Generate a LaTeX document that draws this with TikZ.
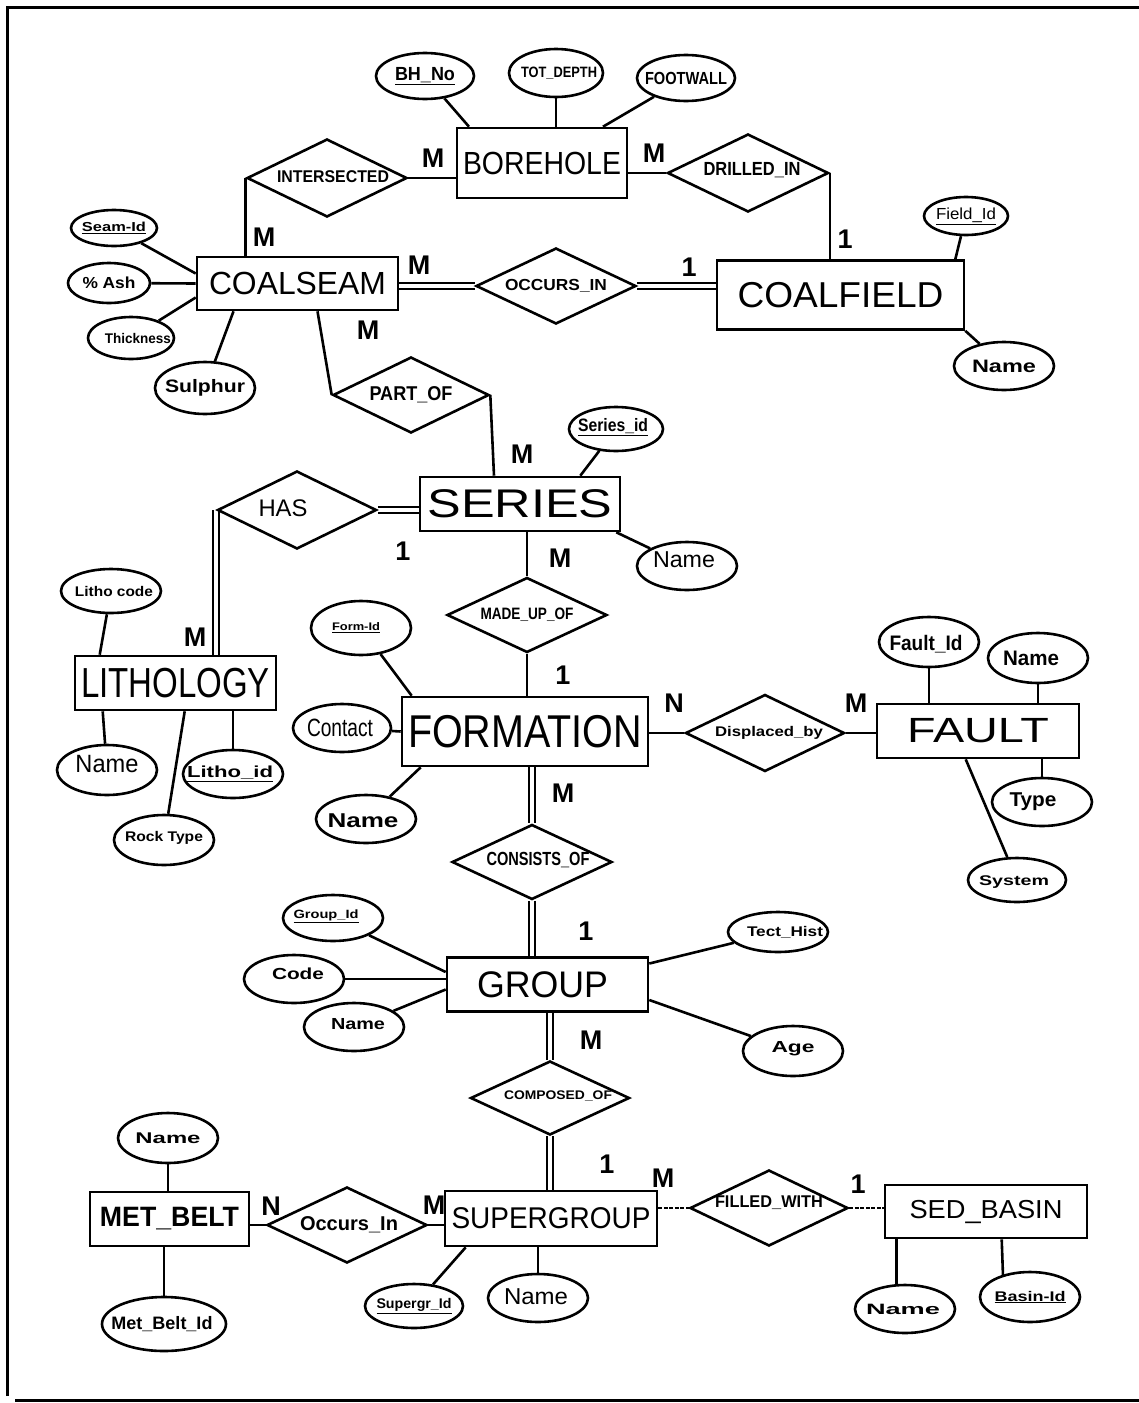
\documentclass[tikz,border=0pt]{standalone}
\usepackage{fontspec}
\setmainfont{Liberation Sans}
\usepackage{graphicx}
\usetikzlibrary{shapes.geometric,calc,backgrounds}
\newcommand\Tbold[3]{{\fontsize{#1}{#1}\selectfont\bfseries\resizebox{#2pt}{\height}{#3}}}
\newcommand\Treg[3]{{\fontsize{#1}{#1}\selectfont\resizebox{#2pt}{\height}{#3}}}
\begin{document}
\begin{tikzpicture}[x=1pt,y=-1pt,
  ent/.style={draw, rectangle, line width=2.6pt, inner sep=0pt},
  rel/.style={draw, diamond, line width=2.6pt, inner sep=0pt},
  att/.style={draw, ellipse, line width=2.6pt, inner sep=0pt},
  con/.style={line width=2.6pt},
  dcon/.style={double, double distance=4pt, line width=2pt},
  dotcon/.style={line width=2.2pt, dash pattern=on 4pt off 1.5pt},
  card/.style={inner sep=0pt, font=\fontsize{27}{27}\selectfont\bfseries}]
\useasboundingbox (0,0) rectangle (1139,1403);
% frame
\draw[line width=3pt] (7,1396) -- (7,7) -- (1139,7);
\draw[line width=3pt] (15,1400) -- (1139,1400);

% entities
\node[ent, minimum width=170, minimum height=70] (borehole) at (542,163) {\Treg{32}{158}{BOREHOLE}};
\node[ent, minimum width=201, minimum height=53] (coalseam) at (297.5,283.5) {\Treg{32}{177}{COALSEAM}};
\node[ent, minimum width=247, minimum height=69] (coalfield) at (840.5,295) {\Treg{36}{206}{COALFIELD}};
\node[ent, minimum width=200, minimum height=54] (series) at (520,504) {\Treg{40}{185}{SERIES}};
\node[ent, minimum width=201, minimum height=54] (lithology) at (175.5,683) {\Treg{42}{189}{LITHOLOGY}};
\node[ent, minimum width=246, minimum height=69] (formation) at (525,731.5) {\Treg{46}{234}{FORMATION}};
\node[ent, minimum width=202, minimum height=54] (fault) at (978,731) {\Treg{35}{142}{FAULT}};
\node[ent, minimum width=201, minimum height=54] (group) at (547.5,984.5) {\hspace*{-10pt}\Treg{37}{131}{GROUP}};
\node[ent, minimum width=159, minimum height=54] (metbelt) at (169.5,1219) {\Tbold{28}{139}{MET\_BELT}};
\node[ent, minimum width=212, minimum height=55] (supergroup) at (551,1218.5) {\Treg{30}{199}{SUPERGROUP}};
\node[ent, minimum width=202, minimum height=53] (sedbasin) at (986,1211.5) {\Treg{26}{153}{SED\_BASIN}};

% relationships
\node[rel, minimum width=160, minimum height=78, label={[xshift=6pt,yshift=1pt]center:\Tbold{17}{112}{INTERSECTED}}] (inter) at (327,178) {};
\node[rel, minimum width=161, minimum height=78, label={[xshift=4pt,yshift=3pt]center:\Tbold{19}{97}{DRILLED\_IN}}] (drilled) at (748,173) {};
\node[rel, minimum width=160, minimum height=76, label={center:\Tbold{16}{102}{OCCURS\_IN}}] (occurs) at (556,286) {};
\node[rel, minimum width=156, minimum height=76, label={center:\Tbold{20}{83}{PART\_OF}}] (partof) at (411,395) {};
\node[rel, minimum width=159, minimum height=78, label={[xshift=-14pt,yshift=2pt]center:\Treg{24}{49}{HAS}}] (has) at (297,510) {};
\node[rel, minimum width=160, minimum height=75, label={center:\Tbold{16.5}{93}{MADE\_UP\_OF}}] (madeup) at (527,615) {};
\node[rel, minimum width=159, minimum height=77, label={[xshift=4pt]center:\Tbold{14}{108}{Displaced\_by}}] (displaced) at (765,733) {};
\node[rel, minimum width=160, minimum height=75, label={[xshift=6pt,yshift=2pt]center:\Tbold{19}{103}{CONSISTS\_OF}}] (consists) at (532,862) {};
\node[rel, minimum width=159, minimum height=74, label={[xshift=8pt,yshift=2pt]center:\Tbold{12.5}{108}{COMPOSED\_OF}}] (composed) at (550,1098) {};
\node[rel, minimum width=160, minimum height=76, label={[xshift=2pt]center:\Tbold{20}{98}{Occurs\_In}}] (occin) at (347,1225) {};
\node[rel, minimum width=158, minimum height=76, label={[yshift=5pt]center:\Tbold{17}{108}{FILLED\_WITH}}] (filled) at (769,1208) {};

% attributes
\node[att, minimum width=98, minimum height=46, label={center:\Tbold{19}{60}{\underline{BH\_No}}}] (bhno) at (425,76) {};
\node[att, minimum width=94, minimum height=48, label={[xshift=3pt]center:\Tbold{15}{76}{TOT\_DEPTH}}] (tot) at (556,73) {};
\node[att, minimum width=98, minimum height=46, label={center:\Tbold{17.5}{82}{FOOTWALL}}] (footwall) at (686,78) {};
\node[att, minimum width=86, minimum height=36, label={center:\Tbold{13}{64}{\underline{Seam-Id}}}] (seamid) at (114,228) {};
\node[att, minimum width=82, minimum height=40, label={center:\Tbold{16}{53}{\% Ash}}] (ash) at (109,283) {};
\node[att, minimum width=86, minimum height=42, label={[xshift=7pt]center:\Tbold{14}{66}{Thickness}}] (thick) at (131,338) {};
\node[att, minimum width=100, minimum height=52, label={center:\Tbold{18}{80}{Sulphur}}] (sulphur) at (205,388) {};
\node[att, minimum width=84, minimum height=38, label={center:\Treg{16}{60}{\underline{Field\_Id}}}] (fieldid) at (966,216) {};
\node[att, minimum width=100, minimum height=48, label={center:\Tbold{18}{64}{Name}}] (cfname) at (1004,366) {};
\node[att, minimum width=94, minimum height=44, label={[xshift=-3pt,yshift=2pt]center:\Tbold{18}{70}{\underline{Series\_id}}}] (seriesid) at (616,429) {};
\node[att, minimum width=100, minimum height=48, label={[xshift=-3pt,yshift=6pt]center:\Treg{23}{62}{Name}}] (sername) at (687,566) {};
\node[att, minimum width=100, minimum height=44, label={[xshift=3pt]center:\Tbold{14}{78}{Litho code}}] (lithocode) at (111,591) {};
\node[att, minimum width=100, minimum height=50, label={[yshift=6pt]center:\Treg{25}{63}{Name}}] (lithname) at (107,770) {};
\node[att, minimum width=100, minimum height=50, label={[yshift=2pt]center:\Tbold{14}{78}{Rock Type}}] (rocktype) at (164,840) {};
\node[att, minimum width=100, minimum height=48, label={[xshift=-3pt]center:\Tbold{16}{86}{\underline{Litho\_id}}}] (lithoid) at (233,774) {};
\node[att, minimum width=100, minimum height=54, label={[xshift=-5pt]center:\Tbold{11}{48}{\underline{Form-Id}}}] (formid) at (361,628) {};
\node[att, minimum width=98, minimum height=48, label={[xshift=-2pt]center:\Treg{25}{66}{Contact}}] (contact) at (342,728) {};
\node[att, minimum width=100, minimum height=48, label={[xshift=-3pt,yshift=-2pt]center:\Tbold{20}{71}{Name}}] (formname) at (366,819) {};
\node[att, minimum width=100, minimum height=50, label={[xshift=-3pt,yshift=-2pt]center:\Tbold{21}{73}{Fault\_Id}}] (faultid) at (929,642) {};
\node[att, minimum width=100, minimum height=50, label={[xshift=-7pt]center:\Tbold{21}{56}{Name}}] (faultname) at (1038,658) {};
\node[att, minimum width=100, minimum height=48, label={[xshift=-9pt]center:\Tbold{20}{47}{Type}}] (ftype) at (1042,802) {};
\node[att, minimum width=98, minimum height=44, label={[xshift=-3pt,yshift=-2pt]center:\Tbold{14}{70}{System}}] (system) at (1017,880) {};
\node[att, minimum width=100, minimum height=46, label={[xshift=-7pt,yshift=2pt]center:\Tbold{12}{65}{\underline{Group\_Id}}}] (groupid) at (333,918) {};
\node[att, minimum width=100, minimum height=48, label={[xshift=4pt,yshift=5pt]center:\Tbold{16}{52}{Code}}] (code) at (294,979) {};
\node[att, minimum width=100, minimum height=48, label={[xshift=4pt,yshift=3pt]center:\Tbold{16}{54}{Name}}] (gname) at (354,1027) {};
\node[att, minimum width=100, minimum height=40, label={[xshift=7pt]center:\Tbold{14}{76}{Tect\_Hist}}] (tect) at (778,932) {};
\node[att, minimum width=100, minimum height=50, label={[yshift=2pt]center:\Tbold{16}{43}{Age}}] (age) at (793,1051) {};
\node[att, minimum width=100, minimum height=50, label={center:\Tbold{15.5}{65}{Name}}] (mbname) at (168,1138) {};
\node[att, minimum width=124, minimum height=54, label={[xshift=-2pt]center:\Tbold{18}{101}{Met\_Belt\_Id}}] (mbid) at (164,1324) {};
\node[att, minimum width=98, minimum height=44, label={center:\Tbold{14}{75}{\underline{Supergr\_Id}}}] (sgid) at (414,1306) {};
\node[att, minimum width=100, minimum height=48, label={[xshift=-2pt,yshift=1pt]center:\Treg{23}{64}{Name}}] (sgname) at (538,1298) {};
\node[att, minimum width=100, minimum height=48, label={[xshift=-2pt]center:\Tbold{15}{74}{Name}}] (sbname) at (905,1309) {};
\node[att, minimum width=100, minimum height=50, label={center:\Tbold{14}{71}{\underline{Basin-Id}}}] (basinid) at (1030,1297) {};

% cardinalities
\node[card] (k1) at (433,158) {M};
\node[card] (k2) at (264,237) {M};
\node[card] (k3) at (654,153) {M};
\node[card] (k4) at (845,239) {1};
\node[card] (k5) at (419,265) {M};
\node[card] (k6) at (689,267) {1};
\node[card] (k7) at (368,330) {M};
\node[card] (k8) at (522,454) {M};
\node[card] (k9) at (403,551) {1};
\node[card] (k10) at (560,558) {M};
\node[card] (k11) at (195,637) {M};
\node[card] (k12) at (563,675) {1};
\node[card] (k13) at (674,703) {N};
\node[card] (k14) at (856,703) {M};
\node[card] (k15) at (563,793) {M};
\node[card] (k16) at (586,931) {1};
\node[card] (k17) at (591,1040) {M};
\node[card] (k18) at (607,1164) {1};
\node[card] (k19) at (663,1178) {M};
\node[card] (k20) at (858,1184) {1};
\node[card] (k21) at (271,1206) {N};
\node[card] (k22) at (434,1205) {M};

\coordinate (bidtop) at (1003,1276);

\begin{pgfonlayer}{background}
% relationship connectors
\draw[con] (inter.east) -- (inter.east -| borehole.west);
\draw[con] (inter.west) -- (inter.west |- coalseam.north);
\draw[con] (drilled.west -| borehole.east) -- (drilled.west);
\draw[con] (drilled.east) -- (drilled.east |- coalfield.north);
\draw[dcon] (occurs.west -| coalseam.east) -- (occurs.west);
\draw[dcon] (occurs.east) -- (occurs.east -| coalfield.west);
\draw[con] ([xshift=20]coalseam.south) -- (partof.west);
\draw[con] (partof.east) -- ([xshift=-26]series.north);
\draw[dcon] (has.west) -- (has.west |- lithology.north);
\draw[dcon] (has.east) -- (has.east -| series.west);
\draw[con] (madeup.north |- series.south) -- (madeup.north);
\draw[con] (madeup.south) -- (madeup.south |- formation.north);
\draw[con] (displaced.west -| formation.east) -- (displaced.west);
\draw[con] (displaced.east) -- (displaced.east -| fault.west);
\draw[dcon] (consists.north |- formation.south) -- (consists.north);
\draw[dcon] (consists.south) -- (consists.south |- group.north);
\draw[dcon] (composed.north |- group.south) -- (composed.north);
\draw[dcon] (composed.south) -- (composed.south |- supergroup.north);
\draw[con] (occin.west -| metbelt.east) -- (occin.west);
\draw[con] (occin.east) -- (occin.east -| supergroup.west);
\draw[dotcon] (filled.west -| supergroup.east) -- (filled.west);
\draw[dotcon] (filled.east) -- (filled.east -| sedbasin.west);
% attribute connectors
\draw[con] ([xshift=-73]borehole.north) -- (bhno);
\draw[con] (tot) -- (tot |- borehole.north);
\draw[con] ([xshift=61]borehole.north) -- (footwall);
\draw[con] ([yshift=10]coalseam.west) -- (seamid);
\draw[con] (coalseam.west) -- (ash);
\draw[con] ([yshift=-14]coalseam.west) -- (thick);
\draw[con] ([xshift=-64]coalseam.south) -- (sulphur);
\draw[con] ([xshift=-10]coalfield.north east) -- (fieldid);
\draw[con] (coalfield.south east) -- (cfname);
\draw[con] ([xshift=-41]series.north east) -- (seriesid);
\draw[con] ([xshift=-5]series.south east) -- (sername);
\draw[con] ([xshift=26]lithology.north west) -- (lithocode);
\draw[con] ([xshift=29]lithology.south west) -- (lithname);
\draw[con] ([xshift=111]lithology.south west) -- (rocktype);
\draw[con] (lithoid |- lithology.south) -- (lithoid);
\draw[con] ([xshift=11]formation.north west) -- (formid);
\draw[con] (formation.west) -- (contact);
\draw[con] ([xshift=20]formation.south west) -- (formname);
\draw[con] (faultid |- fault.north) -- (faultid);
\draw[con] (faultname |- fault.north) -- (faultname);
\draw[con] (ftype |- fault.south) -- (ftype);
\draw[con] ([xshift=90]fault.south west) -- (system);
\draw[con] ([yshift=12.5]group.west) -- (groupid);
\draw[con] ([yshift=5.5]group.west) -- (code);
\draw[con] ([yshift=-5]group.west) -- (gname);
\draw[con] ([yshift=21]group.east) -- (tect);
\draw[con] ([yshift=-15.5]group.east) -- (age);
\draw[con] (mbname) -- (mbname |- metbelt.north);
\draw[con] (mbid |- metbelt.south) -- (mbid);
\draw[con] ([xshift=22]supergroup.south west) -- (sgid);
\draw[con] (sgname |- supergroup.south) -- (sgname);
\draw[con] ([xshift=13]sedbasin.south west) -- ([xshift=13]sedbasin.south west |- sbname.north);
\draw[con] ([xshift=118]sedbasin.south west) -- (bidtop);
\end{pgfonlayer}
\end{tikzpicture}
\end{document}
